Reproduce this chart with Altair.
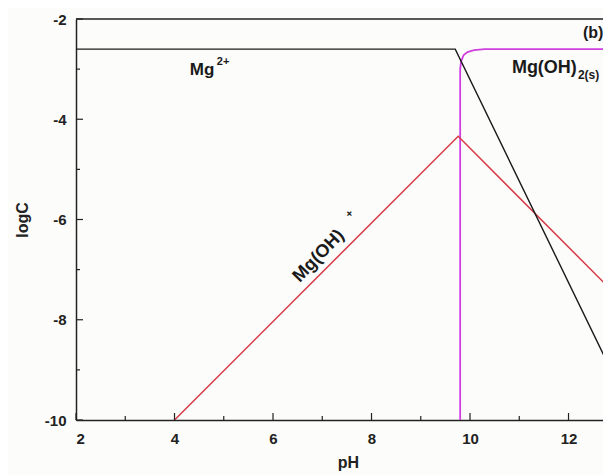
import altair as alt
import pandas as pd

# Mg2+ (black)
mg_ph = [2.0, 9.7, 12.86]
mg_log = [-2.6, -2.6, -9.0]
# Mg(OH)+ (red)
mgoh_ph = [4.0, 9.76, 12.86]
mgoh_log = [-10.0, -4.34, -7.4]
# Mg(OH)2(s) (magenta)
mgs_ph = [9.8, 9.8, 9.82, 9.87, 9.95, 10.08, 10.3, 12.86]
mgs_log = [-10.0, -3.0, -2.84, -2.72, -2.66, -2.62, -2.6, -2.6]

x_major = [2, 4, 6, 8, 10, 12]
x_minor = [3, 5, 7, 9, 11]
y_major = [-10, -8, -6, -4, -2]
y_minor = [-9, -7, -5, -3]

W, H = 527, 401
XD = [2, 12.70]
YD = [-10, -2]

xs = alt.Scale(domain=XD, nice=False, zero=False)
ys = alt.Scale(domain=YD, nice=False, zero=False)

def line_df(px, py):
    return pd.DataFrame({"pH": px, "logC": py, "o": list(range(len(px)))})

def line(px, py, color, width=1.5):
    return alt.Chart(line_df(px, py)).mark_line(color=color, strokeWidth=width, clip=True).encode(
        x=alt.X("pH:Q", scale=xs),
        y=alt.Y("logC:Q", scale=ys),
        order="o:Q",
    )

base_axes = alt.Chart(pd.DataFrame({"pH": [2], "logC": [-10]})).mark_point(opacity=0).encode(
    x=alt.X("pH:Q", scale=xs, title="pH",
            axis=alt.Axis(values=x_major, labelExpr="'' + datum.value", tickSize=0, labelPadding=11,
                          labelFontSize=15, labelFontWeight="bold", labelColor="#222",
                          titleFontSize=16, titleFontWeight="bold", titleColor="#222",
                          titleX=272, titleY=42, titleBaseline="middle",
                          domainColor="#222", domainWidth=1.5, grid=False)),
    y=alt.Y("logC:Q", scale=ys, title="logC",
            axis=alt.Axis(values=y_major, labelExpr="'' + datum.value", tickSize=0, labelPadding=10,
                          labelFontSize=15, labelFontWeight="bold", labelColor="#222",
                          titleFontSize=16, titleFontWeight="bold", titleColor="#222",
                          titleX=-54, titleBaseline="middle",
                          domainColor="#222", domainWidth=1.5, grid=False)),
)

top_rule = alt.Chart(pd.DataFrame({"logC": [-2]})).mark_rule(color="#222", strokeWidth=1.5).encode(
    y=alt.Y("logC:Q", scale=ys), x=alt.value(0), x2=alt.value(W)
)

xt_major = alt.Chart(pd.DataFrame({"pH": x_major})).mark_rule(color="#222", strokeWidth=1.2).encode(
    x=alt.X("pH:Q", scale=xs), y=alt.value(H), y2=alt.value(H - 7)
)
xt_minor = alt.Chart(pd.DataFrame({"pH": x_minor})).mark_rule(color="#222", strokeWidth=1.2).encode(
    x=alt.X("pH:Q", scale=xs), y=alt.value(H), y2=alt.value(H - 4)
)
yt_major = alt.Chart(pd.DataFrame({"logC": y_major})).mark_rule(color="#222", strokeWidth=1.2).encode(
    y=alt.Y("logC:Q", scale=ys), x=alt.value(0), x2=alt.value(7)
)
yt_minor = alt.Chart(pd.DataFrame({"logC": y_minor})).mark_rule(color="#222", strokeWidth=1.2).encode(
    y=alt.Y("logC:Q", scale=ys), x=alt.value(0), x2=alt.value(4)
)

labels = pd.DataFrame({
    "pH": [4.31, 4.86, 12.5, 10.85, 12.19, 6.93, 7.56],
    "logC": [-3.02, -2.86, -2.28, -2.98, -3.12, -6.73, -5.89],
    "text": ["Mg", "2+", "(b)", "Mg(OH)", "2(s)", "Mg(OH)", "+"],
    "size": [17, 11, 16, 18, 12, 18, 11],
    "angle": [0, 0, 0, 0, 0, 314, 314],
    "align": ["left", "left", "center", "left", "left", "center", "center"],
})

def txt(row):
    d = labels.iloc[[row]]
    r = labels.iloc[row]
    return alt.Chart(d).mark_text(
        font="Liberation Sans", fontWeight="bold", fontSize=int(r["size"]),
        angle=float(r["angle"]), align=r["align"], baseline="middle", color="#1a1a1a"
    ).encode(x=alt.X("pH:Q", scale=xs), y=alt.Y("logC:Q", scale=ys), text="text:N")

texts = [txt(i) for i in range(len(labels))]

chart = alt.layer(
    base_axes,
    line(mgs_ph, mgs_log, "#d040e0", 1.8),
    line(mgoh_ph, mgoh_log, "#d83a48", 1.5),
    line(mg_ph, mg_log, "#1a1a1a", 1.4),
    top_rule, xt_major, xt_minor, yt_major, yt_minor,
    *texts,
).properties(
    width=W, height=H,
    autosize=alt.AutoSizeParams(type="none"),
    padding={"left": 68, "top": 11, "right": 0, "bottom": 55},
    background="#fcfcfa",
).configure_view(stroke=None).configure_axis(labelFont="Liberation Sans", titleFont="Liberation Sans")

chart.save("out.html", embed_options={"renderer": "svg", "actions": False})
